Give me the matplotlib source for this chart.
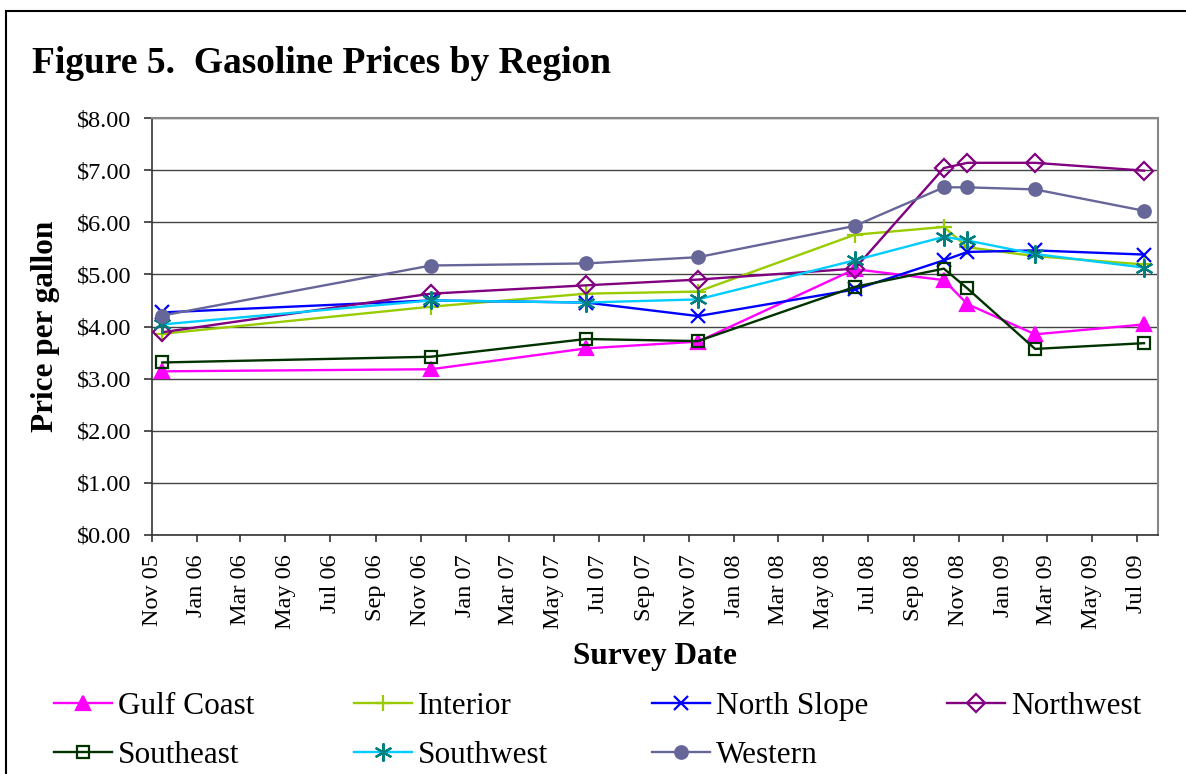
import matplotlib
matplotlib.use('Agg')
import matplotlib.pyplot as plt
import matplotlib.dates as mdates
from matplotlib.patches import Rectangle
from matplotlib.ticker import FuncFormatter
import pandas as pd

plt.rcParams['font.family'] = ['Liberation Serif', 'DejaVu Serif']

# survey dates
survey_dates = pd.to_datetime([
    '2005-11-15', '2006-11-15', '2007-06-14', '2007-11-13', '2008-06-13',
    '2008-10-12', '2008-11-13', '2009-02-13', '2009-07-11',
])

# price per gallon by region
gulf_coast  = [3.14, 3.18, 3.58, 3.71, 5.10, 4.89, 4.43, 3.85, 4.04]
interior    = [3.86, 4.38, 4.63, 4.67, 5.76, 5.91, 5.52, 5.35, 5.19]
north_slope = [4.27, 4.50, 4.46, 4.20, 4.71, 5.27, 5.43, 5.46, 5.38]
northwest   = [3.89, 4.63, 4.79, 4.90, 5.11, 7.04, 7.14, 7.14, 6.99]
southeast   = [3.31, 3.42, 3.76, 3.72, 4.76, 5.11, 4.73, 3.57, 3.68]
southwest   = [4.04, 4.50, 4.46, 4.52, 5.27, 5.72, 5.65, 5.39, 5.13]
western     = [4.21, 5.17, 5.21, 5.33, 5.93, 6.67, 6.67, 6.63, 6.22]

region_names = ['Gulf Coast', 'Interior', 'North Slope', 'Northwest',
                'Southeast', 'Southwest', 'Western']
region_values = [gulf_coast, interior, north_slope, northwest,
                 southeast, southwest, western]

# line colour, marker, marker edge colour, marker face colour, marker size
styles = [
    ('#FF00FF', '^', '#FF00FF', '#FF00FF', 10),
    ('#99CC00', '+', '#99CC00', '#99CC00', 12),
    ('#0000FF', 'x', '#0000FF', '#0000FF', 10),
    ('#800080', 'D', '#800080', 'none', 9),
    ('#003300', 's', '#003300', 'none', 8),
    ('#00CCFF', (6, 2, 0), '#008080', '#008080', 13),
    ('#666699', 'o', '#666699', '#666699', 9),
]

W, H = 1186, 774
fig = plt.figure(figsize=(W / 100, H / 100), dpi=100)

# outer frame of the figure (runs off the right and bottom edges)
fig.patches.append(Rectangle((6 / W, -0.05), 1.0, 1 - 10.5 / H + 0.05,
                             transform=fig.transFigure, fill=False,
                             ec='black', lw=1.5))

fig.text(32 / W, 1 - 73 / H, 'Figure 5.  Gasoline Prices by Region',
         fontsize=27, fontweight='bold', va='baseline', ha='left')

ax = fig.add_axes([152 / W, 1 - 535 / H, (1158 - 152) / W, (535 - 118) / H])

handles = []
for name, vals, (lc, mk, mec, mfc, ms) in zip(region_names, region_values, styles):
    h, = ax.plot(survey_dates, vals, color=lc, lw=1.7, marker=mk, ms=ms,
                 mec=mec, mfc=mfc, mew=1.6, label=name, zorder=3)
    handles.append(h)

ax.set_ylim(0, 8)
ax.set_yticks(range(0, 9))
ax.yaxis.set_major_formatter(FuncFormatter(lambda v, p: f'${v:.2f}'))
ax.set_xlim(pd.Timestamp('2005-11-01'), pd.Timestamp('2009-07-30'))
ax.xaxis.set_major_locator(mdates.MonthLocator(bymonth=[1, 3, 5, 7, 9, 11]))
ax.xaxis.set_major_formatter(mdates.DateFormatter('%b %y'))

ax.grid(axis='y', color='#444444', lw=1.0)
ax.set_axisbelow(True)
for side in ['top', 'right']:
    ax.spines[side].set_color('#888888')
    ax.spines[side].set_linewidth(1.5)
for side in ['left', 'bottom']:
    ax.spines[side].set_color('#333333')
    ax.spines[side].set_linewidth(1.2)

ax.tick_params(axis='y', length=6, width=1.2, pad=9, labelsize=17.5, color='#333333')
ax.tick_params(axis='x', length=5, width=1.2, pad=9, labelsize=17.5,
               labelrotation=90, color='#333333')

ax.set_ylabel('Price per gallon', fontsize=22.5, fontweight='bold', labelpad=12)
ax.set_xlabel('Survey Date', fontsize=22.5, fontweight='bold', labelpad=9)

# legend: four columns, placed like the original
columns = [[0, 4], [1, 5], [2, 6], [3]]
col_x = [54, 354, 652, 947]
for idx, x0 in zip(columns, col_x):
    fig.legend([handles[i] for i in idx], [region_names[i] for i in idx],
               loc='upper left', bbox_to_anchor=(x0 / W, 1 - 692 / H),
               frameon=False, fontsize=22.5, borderpad=0, borderaxespad=0,
               handlelength=1.85, handletextpad=0.2, labelspacing=0.63)

fig.savefig('out.png', dpi=100)
